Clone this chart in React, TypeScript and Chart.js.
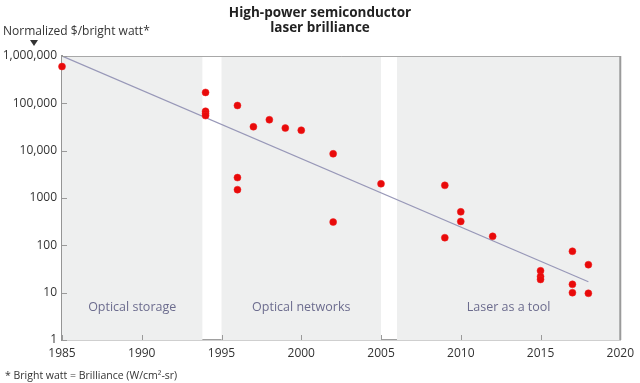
import { useEffect, useRef } from 'react';
import { Chart, registerables } from 'chart.js';

Chart.register(...registerables);

// ---- data ----
const pointYears = [
  1985, 1994, 1994, 1994, 1994, 1996, 1996, 1996, 1997, 1998, 1999, 2000, 2002, 2002,
  2005, 2009, 2009, 2010, 2010, 2012, 2015, 2015, 2015, 2017, 2017, 2017, 2018, 2018,
];
const pointValues = [
  600000, 170000, 68000, 61000, 55000, 90000, 2700, 1500, 32000, 45000, 30000, 27000, 8600, 310,
  2000, 1850, 145, 510, 320, 155, 29, 22, 19, 75, 15, 10, 39, 9.7,
];
const trendYears = [1985, 2018];
const trendValues = [1000000, 17];

const bandStarts = [1985, 1995, 2006];
const bandEnds = [1993.8, 2005, 2020];
const bandLabels = ['Optical storage', 'Optical networks', 'Laser as a tool'];

const yTickValues = [1, 10, 100, 1000, 10000, 100000, 1000000];
const yTickLabels = ['1', '10', '100', '1000', '10,000', '100,000', '1,000,000'];
const xTickValues = [1985, 1990, 1995, 2000, 2005, 2010, 2015, 2020];

const titleLines = ['High-power semiconductor', 'laser brilliance'];
const yAxisTitle = 'Normalized $/bright watt*';
const footnote = '* Bright watt = Brilliance (W/cm²-sr)';

const FONT = '"Open Sans", "DejaVu Sans", sans-serif';

const extrasPlugin = {
  id: 'extras',
  beforeDatasetsDraw(chart: any) {
    const { ctx, chartArea, scales } = chart;
    const xs = scales.x;
    ctx.save();
    ctx.fillStyle = '#eeefef';
    for (let i = 0; i < bandStarts.length; i++) {
      const x0 = xs.getPixelForValue(bandStarts[i]);
      const x1 = xs.getPixelForValue(bandEnds[i]);
      ctx.fillRect(x0, chartArea.top, x1 - x0, chartArea.bottom - chartArea.top);
    }
    // band labels
    ctx.fillStyle = '#6c6c8e';
    ctx.font = `12.5px ${FONT}`;
    ctx.textAlign = 'center';
    ctx.textBaseline = 'middle';
    const ly = scales.y.getPixelForValue(4.8);
    for (let i = 0; i < bandLabels.length; i++) {
      const x0 = xs.getPixelForValue(bandStarts[i]);
      const x1 = xs.getPixelForValue(bandEnds[i]);
      ctx.fillText(bandLabels[i], (x0 + x1) / 2, ly);
    }
    ctx.restore();
  },
  afterDraw(chart: any) {
    const { ctx, chartArea, scales } = chart;
    const { left, right, top, bottom } = chartArea;
    ctx.save();
    // top and right borders
    ctx.strokeStyle = '#a8a8a8';
    ctx.lineWidth = 1;
    ctx.beginPath();
    ctx.moveTo(left, top + 0.5);
    ctx.lineTo(right, top + 0.5);
    ctx.stroke();
    ctx.lineWidth = 2;
    ctx.strokeStyle = '#9a9a9a';
    ctx.beginPath();
    ctx.moveTo(right, top);
    ctx.lineTo(right, bottom);
    ctx.stroke();
    // inner ticks
    ctx.lineWidth = 1;
    ctx.strokeStyle = '#9a9a9a';
    ctx.beginPath();
    for (const v of yTickValues) {
      const y = Math.round(scales.y.getPixelForValue(v)) + 0.5;
      ctx.moveTo(left, y);
      ctx.lineTo(left + 5, y);
    }
    for (const v of xTickValues) {
      const x = Math.round(scales.x.getPixelForValue(v)) + 0.5;
      ctx.moveTo(x, bottom);
      ctx.lineTo(x, bottom - 5);
    }
    ctx.stroke();

    // title
    ctx.fillStyle = '#222';
    ctx.font = `bold 13.5px ${FONT}`;
    ctx.textAlign = 'center';
    ctx.textBaseline = 'middle';
    ctx.fillText(titleLines[0], 320, 13);
    ctx.fillText(titleLines[1], 320, 28);

    // y axis title
    ctx.fillStyle = '#333';
    ctx.font = `12px ${FONT}`;
    ctx.textAlign = 'left';
    ctx.fillText(yAxisTitle, 3, 32);
    // arrow
    ctx.beginPath();
    ctx.moveTo(30, 40);
    ctx.lineTo(38, 40);
    ctx.lineTo(34, 46);
    ctx.closePath();
    ctx.fill();

    // footnote
    ctx.font = `10.5px ${FONT}`;
    ctx.fillStyle = '#333';
    ctx.fillText(footnote, 5, 376);
    ctx.restore();
  },
};

export default function App() {
  const ref = useRef<HTMLCanvasElement>(null);
  useEffect(() => {
    if (!ref.current) return;
    const chart = new Chart(ref.current, {
      type: 'scatter',
      data: {
        datasets: [
          {
            type: 'line',
            data: trendYears.map((x, i) => ({ x, y: trendValues[i] })),
            borderColor: '#9898b8',
            borderWidth: 1.2,
            pointRadius: 0,
            fill: false,
            order: 2,
          } as any,
          {
            type: 'scatter',
            data: pointYears.map((x, i) => ({ x, y: pointValues[i] })),
            backgroundColor: '#e80a0a',
            borderColor: '#f02020',
            borderWidth: 0.5,
            pointRadius: 3.5,
            clip: false,
            order: 1,
          } as any,
        ],
      },
      options: {
        animation: false,
        responsive: false,
        devicePixelRatio: 1,
        layout: { padding: { left: 0, right: 15, top: 56, bottom: 21 } },
        plugins: { legend: { display: false }, tooltip: { enabled: false }, title: { display: false } },
        scales: {
          x: {
            type: 'linear',
            min: 1985,
            max: 2020,
            afterFit: (s: any) => { s.height = 22; },
            afterBuildTicks: (s: any) => { s.ticks = xTickValues.map((v) => ({ value: v })); },
            ticks: {
              callback: (v: any) => String(v),
              color: '#333',
              font: { family: FONT, size: 12 },
              padding: 6,
              maxRotation: 0,
              autoSkip: false,
            },
            grid: { display: false, drawTicks: false },
            border: { display: true, color: '#a0a0a0', width: 1.5 },
          },
          y: {
            type: 'logarithmic',
            min: 1,
            max: 1000000,
            afterFit: (s: any) => { s.width = 62; },
            afterBuildTicks: (s: any) => { s.ticks = yTickValues.map((v) => ({ value: v })); },
            ticks: {
              callback: (v: any) => {
                const i = yTickValues.indexOf(Number(v));
                return i >= 0 ? yTickLabels[i] : '';
              },
              color: '#333',
              font: { family: FONT, size: 12 },
              padding: 5,
              autoSkip: false,
            },
            grid: { display: false, drawTicks: false },
            border: { display: true, color: '#959595', width: 2 },
          },
        },
      },
      plugins: [extrasPlugin],
    });
    return () => chart.destroy();
  }, []);
  return (
    <div style={{ position: 'fixed', left: 0, top: 0, width: 640, height: 383, background: '#fff' }}>
      <canvas ref={ref} width={640} height={383} />
    </div>
  );
}
